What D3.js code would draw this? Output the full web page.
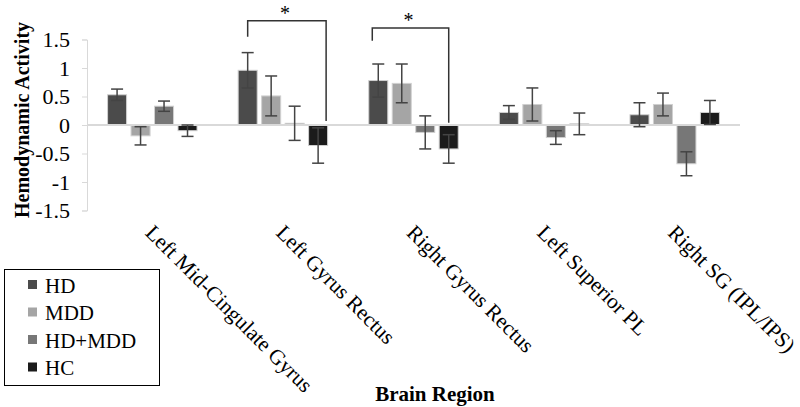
<!DOCTYPE html>
<html>
<head>
<meta charset="utf-8">
<script src="https://cdn.jsdelivr.net/npm/d3@7"></script>
<style>
  body { margin: 0; background: #fff; }
  svg text { font-family: "Liberation Serif", "Times New Roman", serif; }
</style>
</head>
<body>
<div id="chartTarget"></div>
<script>
  const regions = ['Left Mid-Cingulate Gyrus', 'Left Gyrus Rectus', 'Right Gyrus Rectus', 'Left Superior PL', 'Right SG (IPL/IPS)'];
  const groups = ['HD', 'MDD', 'HD+MDD', 'HC'];
  const colors = ['#4b4b4b', '#a5a5a5', '#777777', '#1b1b1b'];

  // mean per group, one array per series (in region order)
  const hdValues    = [0.53, 0.96, 0.78, 0.22, 0.18];
  const mddValues   = [-0.19, 0.51, 0.73, 0.36, 0.36];
  const hdmddValues = [0.33, 0.03, -0.13, -0.22, -0.68];
  const hcValues    = [-0.10, -0.36, -0.42, 0.02, 0.22];

  // error bar half lengths
  const hdErr    = [0.10, 0.31, 0.29, 0.12, 0.21];
  const mddErr   = [0.16, 0.35, 0.34, 0.29, 0.20];
  const hdmddErr = [0.09, 0.30, 0.29, 0.12, 0.21];
  const hcErr    = [0.10, 0.31, 0.25, 0.19, 0.21];

  const yTicks = [1.5, 1, 0.5, 0, -0.5, -1, -1.5];

  // significance brackets: region, top, left foot, right foot (data units)
  const brackets = [
    { region: 'Left Gyrus Rectus', top: 1.83, leftFoot: 1.55, rightFoot: 0.07, dl: 0, dr: 8 },
    { region: 'Right Gyrus Rectus', top: 1.70, leftFoot: 1.48, rightFoot: 0.04, dl: -6, dr: 0 }
  ];

  const values = [hdValues, mddValues, hdmddValues, hcValues];
  const errors = [hdErr, mddErr, hdmddErr, hcErr];

  const width = 800;
  const height = 407;
  const plotLeft = 87, plotRight = 740, plotTop = 39.5, plotBottom = 210.5;
  const serif = '"Liberation Serif", "Times New Roman", serif';

  const svg = d3.select('#chartTarget').append('svg')
    .attr('width', width)
    .attr('height', height);

  const x0 = d3.scaleBand()
    .domain(regions)
    .range([plotLeft, plotRight])
    .paddingInner(0.315)
    .paddingOuter(0.1575);

  const x1 = d3.scaleBand()
    .domain(groups)
    .range([0, x0.bandwidth()])
    .paddingInner(0.19);

  const y = d3.scaleLinear()
    .domain([-1.5, 1.5])
    .range([plotBottom, plotTop]);

  // y axis
  const yAxis = d3.axisLeft(y)
    .tickValues(yTicks)
    .tickSize(5)
    .tickPadding(12)
    .tickFormat(d => String(d));

  const gy = svg.append('g')
    .attr('transform', `translate(${plotLeft},0)`)
    .attr('font-family', serif)
    .call(yAxis);
  gy.select('.domain').attr('stroke', '#d9d9d9').attr('stroke-width', 1);
  gy.selectAll('.tick line').attr('stroke', '#d9d9d9');
  gy.selectAll('.tick text')
    .attr('fill', '#000')
    .style('font-size', '22px')
    .style('font-family', serif);

  // bars
  const rows = [];
  regions.forEach((r, i) => {
    groups.forEach((g, j) => {
      rows.push({ region: r, group: g, value: values[j][i], err: errors[j][i], color: colors[j] });
    });
  });

  svg.append('g').selectAll('rect')
    .data(rows)
    .enter().append('rect')
      .attr('x', d => x0(d.region) + x1(d.group))
      .attr('y', d => y(Math.max(0, d.value)))
      .attr('width', x1.bandwidth())
      .attr('height', d => Math.abs(y(d.value) - y(0)))
      .attr('fill', d => d.color)
      .attr('stroke', '#d0d0d0')
      .attr('stroke-width', 1);

  // zero line
  svg.append('line')
    .attr('x1', plotLeft).attr('x2', plotRight)
    .attr('y1', y(0)).attr('y2', y(0))
    .attr('stroke', '#d9d9d9')
    .attr('stroke-width', 2);

  // error bars
  const cap = 6;
  const eb = svg.append('g').attr('stroke', '#444').attr('stroke-width', 1.5);
  rows.forEach(d => {
    const cx = x0(d.region) + x1(d.group) + x1.bandwidth() / 2;
    const y1 = y(d.value + d.err), y2 = y(d.value - d.err);
    eb.append('line').attr('x1', cx).attr('x2', cx).attr('y1', y1).attr('y2', y2);
    eb.append('line').attr('x1', cx - cap).attr('x2', cx + cap).attr('y1', y1).attr('y2', y1);
    eb.append('line').attr('x1', cx - cap).attr('x2', cx + cap).attr('y1', y2).attr('y2', y2);
  });

  // significance brackets
  brackets.forEach(b => {
    const xl = x0(b.region) + x1('HD') + x1.bandwidth() / 2 + b.dl;
    const xr = x0(b.region) + x1('HC') + x1.bandwidth() / 2 + b.dr;
    svg.append('path')
      .attr('d', `M${xl},${y(b.leftFoot)}V${y(b.top)}H${xr}V${y(b.rightFoot)}`)
      .attr('fill', 'none')
      .attr('stroke', '#333')
      .attr('stroke-width', 1.5);
    svg.append('text')
      .attr('x', (xl + xr) / 2 - 2)
      .attr('y', y(b.top) - 1)
      .attr('text-anchor', 'middle')
      .style('font-size', '20px')
      .style('font-family', serif)
      .text('*');
  });

  // category labels
  svg.append('g').selectAll('text')
    .data(regions)
    .enter().append('text')
      .attr('transform', d => `translate(${x0(d) + x0.bandwidth() / 2 - 8},234) rotate(45)`)
      .style('font-size', '21.5px')
      .style('font-family', serif)
      .text(d => d);

  // axis titles
  svg.append('text')
    .attr('transform', `translate(29,${(plotTop + plotBottom) / 2 - 5}) rotate(-90)`)
    .attr('text-anchor', 'middle')
    .style('font-size', '20px')
    .style('font-weight', 'bold')
    .style('font-family', serif)
    .text('Hemodynamic Activity');

  svg.append('text')
    .attr('x', 435)
    .attr('y', 401)
    .attr('text-anchor', 'middle')
    .style('font-size', '21px')
    .style('font-weight', 'bold')
    .style('font-family', serif)
    .text('Brain Region');

  // legend
  const legend = svg.append('g');
  legend.append('rect')
    .attr('x', 4.5).attr('y', 269.5)
    .attr('width', 155).attr('height', 116)
    .attr('fill', '#fff')
    .attr('stroke', '#000')
    .attr('stroke-width', 1);

  groups.forEach((g, j) => {
    const cy = 285 + j * 27.5;
    legend.append('rect')
      .attr('x', 28).attr('y', cy - 5)
      .attr('width', 9).attr('height', 9)
      .attr('fill', colors[j]);
    legend.append('text')
      .attr('x', 45).attr('y', cy + 7.5)
      .style('font-size', '21px')
      .style('font-family', serif)
      .text(g);
  });
</script>
</body>
</html>
